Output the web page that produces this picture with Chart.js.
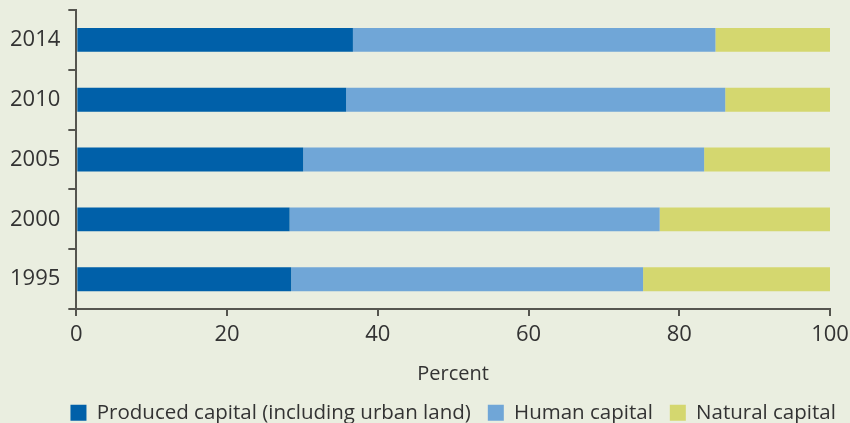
<!DOCTYPE html>
<html lang="en">
<head>
    <meta charset="UTF-8">
    <title>Capital shares</title>
    <script src="https://cdn.jsdelivr.net/npm/chart.js"></script>
    <style>
        body {
            margin: 0;
            padding: 0;
            background: #eaeee0;
            overflow: hidden;
        }
        .chart-wrap {
            width: 850px;
            height: 423px;
        }
    </style>
</head>
<body>
    <div class="chart-wrap">
        <canvas id="capitalChart"></canvas>
    </div>
    <script>
        // Share of total wealth, percent
        const years = ["2014", "2010", "2005", "2000", "1995"];
        const producedCapital = [36.7, 35.8, 30.1, 28.3, 28.5];
        const humanCapital = [48.1, 50.3, 53.2, 49.1, 46.7];
        const naturalCapital = [15.2, 13.9, 16.7, 22.6, 24.8];
        const xTicks = [0, 20, 40, 60, 80, 100];

        const axisColor = '#55554f';
        const textColor = '#333333';
        const fontFamily = "'Open Sans', 'DejaVu Sans', sans-serif";

        // the legend in the original is centred under the plot, not the page
        const shiftLegend = {
            id: 'shiftLegend',
            afterLayout(chart) {
                const dx = (chart.chartArea.left + chart.chartArea.right) / 2 - chart.width / 2;
                const lg = chart.legend;
                const mid = (lg.left + lg.right) / 2;
                const off = chart.width / 2 + dx - mid;
                lg.left += off;
                lg.right += off;
            }
        };

        new Chart(document.getElementById('capitalChart'), {
            type: 'bar',
            data: {
                labels: years,
                datasets: [
                    { label: 'Produced capital (including urban land)', data: producedCapital, backgroundColor: '#0060a9' },
                    { label: 'Human capital', data: humanCapital, backgroundColor: '#70a6d7' },
                    { label: 'Natural capital', data: naturalCapital, backgroundColor: '#d4d76f' }
                ]
            },
            plugins: [shiftLegend],
            options: {
                indexAxis: 'y',
                responsive: true,
                maintainAspectRatio: false,
                animation: false,
                categoryPercentage: 1,
                barPercentage: 0.4,
                layout: { padding: { top: 10, right: 20, left: 2, bottom: -10 } },
                plugins: {
                    legend: {
                        position: 'bottom',
                        labels: {
                            color: textColor,
                            font: { family: fontFamily, size: 20.5 },
                            boxWidth: 16,
                            boxHeight: 16,
                            padding: 17
                        }
                    },
                    tooltip: { enabled: false }
                },
                scales: {
                    x: {
                        stacked: true,
                        min: 0,
                        max: 100,
                        afterBuildTicks: axis => { axis.ticks = xTicks.map(v => ({ value: v })); },
                        afterFit: scale => { scale.paddingRight = 20; },
                        border: { color: axisColor, width: 2 },
                        grid: { drawOnChartArea: false, color: axisColor, lineWidth: 2, tickLength: 7 },
                        ticks: { color: textColor, font: { family: fontFamily, size: 22 }, padding: 5 },
                        title: {
                            display: true,
                            text: 'Percent',
                            color: textColor,
                            font: { family: fontFamily, size: 20 },
                            padding: { top: 10, bottom: -1 }
                        }
                    },
                    y: {
                        stacked: true,
                        afterFit: scale => { scale.paddingTop = 0; scale.paddingBottom = 0; },
                        border: { color: axisColor, width: 2 },
                        grid: { drawOnChartArea: false, color: axisColor, lineWidth: 2, tickLength: 8, offset: true },
                        ticks: { color: textColor, font: { family: fontFamily, size: 22 }, padding: 8 }
                    }
                }
            }
        });
    </script>
</body>
</html>
